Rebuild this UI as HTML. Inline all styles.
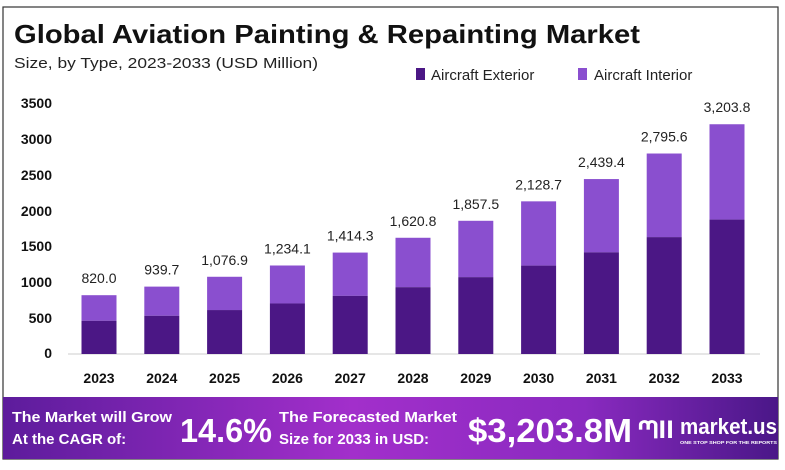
<!DOCTYPE html>
<html><head><meta charset="utf-8"><style>
html,body{margin:0;padding:0;background:#fff;}
body{width:785px;height:465px;overflow:hidden;font-family:"Liberation Sans",sans-serif;}
</style></head><body>
<svg width="785" height="465" viewBox="0 0 785 465" xmlns="http://www.w3.org/2000/svg">
<defs>
<linearGradient id="bg" x1="0" x2="1" y1="0" y2="0">
<stop offset="0" stop-color="#5d1c9c"/><stop offset="0.45" stop-color="#a22fcb"/><stop offset="0.75" stop-color="#8a2ac0"/><stop offset="1" stop-color="#4a1788"/>
</linearGradient>
</defs>
<rect x="3" y="7" width="775" height="452" fill="#fff" stroke="#333" stroke-width="1.2"/>
<text x="14" y="43" font-size="26" font-weight="bold" fill="#111" textLength="626" lengthAdjust="spacingAndGlyphs">Global Aviation Painting &amp; Repainting Market</text>
<text x="14" y="68" font-size="15" fill="#222" textLength="304" lengthAdjust="spacingAndGlyphs">Size, by Type, 2023-2033 (USD Million)</text>
<rect x="416" y="68" width="9" height="12" fill="#4b1785"/>
<text x="431" y="80" font-size="15" fill="#222">Aircraft Exterior</text>
<rect x="578" y="68" width="9" height="12" fill="#8a4fcf"/>
<text x="594" y="80" font-size="15" fill="#222">Aircraft Interior</text>
<g font-size="14" font-weight="bold" fill="#111" text-anchor="end">
<text x="52" y="108">3500</text><text x="52" y="144">3000</text><text x="52" y="180">2500</text>
<text x="52" y="216">2000</text><text x="52" y="251">1500</text><text x="52" y="287">1000</text>
<text x="52" y="323">500</text><text x="52" y="358">0</text>
</g>
<line x1="68" y1="354" x2="760" y2="354" stroke="#ccc" stroke-width="1"/>
<g id="bars"></g>
<rect x="3" y="397" width="775" height="62" fill="url(#bg)"/>
<g fill="#fff" font-weight="bold">
<text x="12" y="422" font-size="15" textLength="160" lengthAdjust="spacingAndGlyphs">The Market will Grow</text>
<text x="12" y="444" font-size="15">At the CAGR of:</text>
<text x="180" y="442" font-size="33" textLength="92" lengthAdjust="spacingAndGlyphs">14.6%</text>
<text x="279" y="422" font-size="15" textLength="178" lengthAdjust="spacingAndGlyphs">The Forecasted Market</text>
<text x="279" y="444" font-size="15">Size for 2033 in USD:</text>
<text x="468" y="442" font-size="33" textLength="164" lengthAdjust="spacingAndGlyphs">$3,203.8M</text>
<text x="638" y="438" font-size="24" textLength="36" lengthAdjust="spacingAndGlyphs">ᘉll</text>
<text x="680" y="434" font-size="22" textLength="97" lengthAdjust="spacingAndGlyphs">market.us</text>
<text x="680" y="444" font-size="4.5" textLength="97" lengthAdjust="spacingAndGlyphs">ONE STOP SHOP FOR THE REPORTS</text>
</g>
</svg>
<script>
const v=[820.0,939.7,1076.9,1234.1,1414.3,1620.8,1857.5,2128.7,2439.4,2795.6,3203.8];
const s=["820.0","939.7","1,076.9","1,234.1","1,414.3","1,620.8","1,857.5","2,128.7","2,439.4","2,795.6","3,203.8"];
const g=document.getElementById('bars');
const k=251/3500,b=354;let h='';
for(let i=0;i<11;i++){const c=99+62.8*i,w=35,x=c-w/2;const f=0.565+0.02*i/10;
const T=v[i]*k,E=v[i]*f*k;
h+=`<rect x="${x}" y="${b-T}" width="${w}" height="${T-E}" fill="#8a4fcf"/>`;
h+=`<rect x="${x}" y="${b-E}" width="${w}" height="${E}" fill="#4b1785"/>`;
h+=`<text x="${c}" y="${b-T-12}" font-size="14" fill="#222" text-anchor="middle">${s[i]}</text>`;
h+=`<text x="${c}" y="383" font-size="14" font-weight="bold" fill="#111" text-anchor="middle">${2023+i}</text>`;}
g.innerHTML=h;
</script>
</body></html>
